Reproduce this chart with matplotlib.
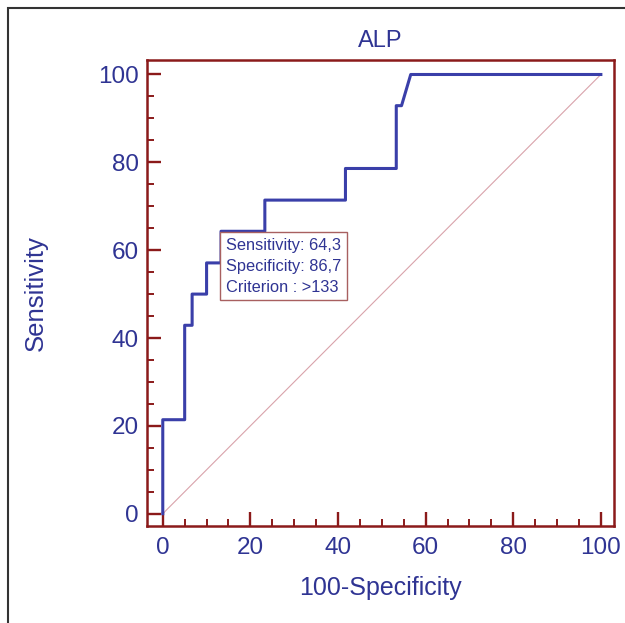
import matplotlib
matplotlib.use("Agg")
import matplotlib.pyplot as plt
from matplotlib.patches import Rectangle
from matplotlib.ticker import MultipleLocator

# ROC curve points (100-Specificity, Sensitivity)
fpr = [0, 0, 5, 5, 6.7, 6.7, 10, 10, 13.3, 13.3, 23.3, 23.3, 41.7, 41.7, 53.3, 53.3, 54.5, 56.6, 100]
tpr = [0, 21.4, 21.4, 42.9, 42.9, 50, 50, 57.1, 57.1, 64.3, 64.3, 71.4, 71.4, 78.6, 78.6, 92.9, 92.9, 100, 100]
diag = [0, 100]

crit_x, crit_y = 13.3, 64.3
box_lines = ["Sensitivity: 64,3", "Specificity: 86,7", "Criterion : >133"]
ticks = [0, 20, 40, 60, 80, 100]

blue_txt = "#2f3493"
blue_line = "#3a3fa9"
dark_red = "#8b1a1a"

plt.rcParams['font.family'] = ['Liberation Sans', 'DejaVu Sans']

fig = plt.figure(figsize=(6.25, 6.23), dpi=100)
ax = fig.add_axes([0.2352, 0.1557, 0.7472, 0.748])

# outer frame of the picture
fig.patches.append(Rectangle((8/625, -0.2), 1.5, 1.2 - 8/623, transform=fig.transFigure,
                             fill=False, edgecolor="#333333", linewidth=1.5))

ax.plot(diag, diag, color="#d9a3ab", linewidth=0.8, zorder=1)
ax.plot(fpr, tpr, color=blue_line, linewidth=2.2, zorder=3)

ax.set_xlim(-3.6, 103)
ax.set_ylim(-2.8, 103.3)
ax.set_xticks(ticks)
ax.set_yticks(ticks)
ax.xaxis.set_minor_locator(MultipleLocator(5))
ax.yaxis.set_minor_locator(MultipleLocator(5))

for sp in ax.spines.values():
    sp.set_color(dark_red)
    sp.set_linewidth(1.8)

ax.tick_params(which='major', direction='in', length=10, width=1.7, color=dark_red,
               labelcolor=blue_txt, labelsize=17.5)
ax.tick_params(which='minor', direction='in', length=5, width=1.4, color=dark_red)
ax.tick_params(axis='x', pad=8)
ax.tick_params(axis='y', pad=6)

ax.set_title("ALP", color=blue_txt, fontsize=17, pad=9)
ax.set_xlabel("100-Specificity", color=blue_txt, fontsize=18, labelpad=12)
ax.set_ylabel("Sensitivity", color=blue_txt, fontsize=18.5, labelpad=36)

ax.annotate("\n".join(box_lines), xy=(crit_x, crit_y), xytext=(3.5, -4.5),
            textcoords='offset points', ha='left', va='top', fontsize=11.8,
            color=blue_txt, linespacing=1.5, zorder=5,
            bbox=dict(boxstyle='square,pad=0.35', facecolor='white',
                      edgecolor="#a86060", linewidth=1.0))

fig.savefig("out.png", dpi=100)
